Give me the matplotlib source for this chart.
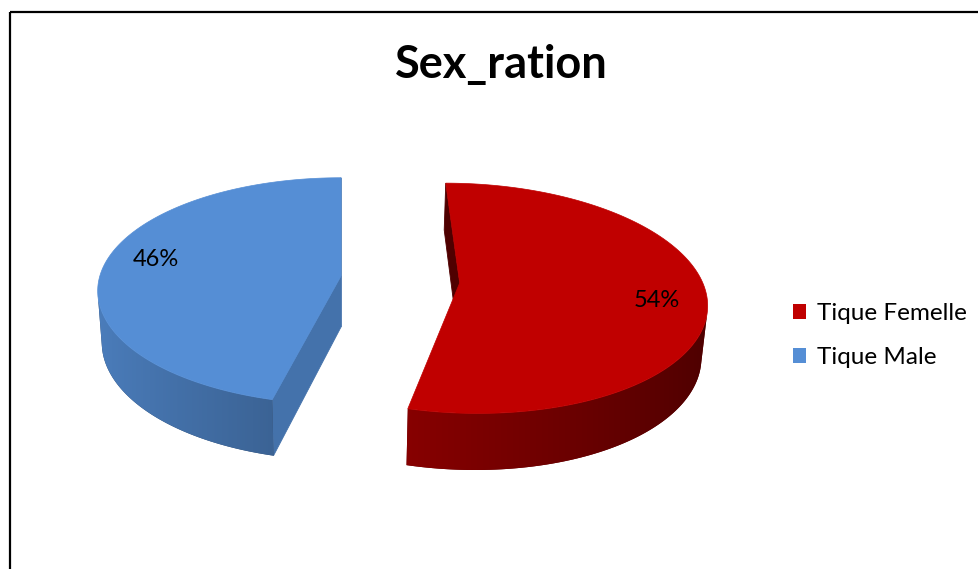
import numpy as np
import matplotlib.pyplot as plt
from matplotlib.patches import Polygon, Patch, Rectangle
from matplotlib.colors import to_rgb

plt.rcParams['font.family'] = ['Lato', 'DejaVu Sans']

title = 'Sex_ration'
labels = ['Tique Femelle', 'Tique Male']
values = [54, 46]
colors = ['#C00000', '#558ED5']

W, H = 979, 569
fig = plt.figure(figsize=(W / 100, H / 100), dpi=100)
ax = fig.add_axes([0, 0, 1, 1])
ax.axis('off')

# camera / 3d settings (pie radius = 1)
elev = np.radians(27.6)
dist = 6.69
focal = 1620.0
cam_x = -0.244
thick = 0.2425
explode = 0.246
x0, y0 = 341, 279.5
cam = np.array([cam_x, -dist * np.cos(elev), dist * np.sin(elev)])


def proj(X, Y, Z):
    depth = dist + Y * np.cos(elev) - Z * np.sin(elev)
    u = x0 + focal * (X - cam_x) / depth
    v = y0 - focal * (Y * np.sin(elev) + Z * np.cos(elev)) / depth
    return u, v


def shade(col, f):
    return np.clip(np.array(to_rgb(col)) * f, 0, 1)


def facing(normal, center):
    return np.dot(normal, cam - np.array(center)) > 0


fracs = np.array(values) / sum(values)
start = 90.0
for i, (frac, col) in enumerate(zip(fracs, colors)):
    t_hi = np.radians(start)
    t_lo = np.radians(start - frac * 360)
    start -= frac * 360
    mid = (t_hi + t_lo) / 2
    cx, cy = explode * np.cos(mid), explode * np.sin(mid)
    zb = 10 * i

    # radial faces
    for t, n in [(t_lo, (np.sin(t_lo), -np.cos(t_lo), 0)),
                 (t_hi, (-np.sin(t_hi), np.cos(t_hi), 0))]:
        rx, ry = cx + np.cos(t), cy + np.sin(t)
        c3 = ((cx + rx) / 2, (cy + ry) / 2, -thick / 2)
        if facing(n, c3):
            f = 0.61 + 0.2 * np.cos(np.arctan2(n[1], n[0]))
            pts = [proj(cx, cy, 0), proj(rx, ry, 0), proj(rx, ry, -thick), proj(cx, cy, -thick)]
            ax.add_patch(Polygon(pts, closed=True, facecolor=shade(col, f),
                                 edgecolor=shade(col, f), lw=0.6, zorder=zb + 1))

    # outer rim, shaded with a horizontal gradient
    ts = np.linspace(t_lo, t_hi, 361)
    vis = np.array([facing((np.cos(t), np.sin(t), 0),
                           (cx + np.cos(t), cy + np.sin(t), -thick / 2)) for t in ts])
    tv = ts[vis]
    if len(tv) > 1:
        top_pts = [proj(cx + np.cos(t), cy + np.sin(t), 0) for t in tv]
        bot_pts = [proj(cx + np.cos(t), cy + np.sin(t), -thick) for t in tv[::-1]]
        rim = Polygon(top_pts + bot_pts, closed=True, facecolor=shade(col, 0.5),
                      edgecolor='none', zorder=zb + 2)
        ax.add_patch(rim)
        px = np.array([p[0] for p in top_pts])
        fac = 0.64 - 0.245 * np.cos(tv)
        order = np.argsort(px)
        xs = np.arange(int(px.min()) - 2, int(px.max()) + 3)
        fx = np.interp(xs, px[order], fac[order])
        grad = np.array([shade(col, f) for f in fx])[None, :, :]
        ys = [p[1] for p in top_pts + bot_pts]
        im = ax.imshow(grad, extent=(xs[0], xs[-1], max(ys) + 2, min(ys) - 2),
                       aspect='auto', interpolation='bilinear', zorder=zb + 2.5)
        im.set_clip_path(rim)

    # top face
    top = [proj(cx, cy, 0)] + [proj(cx + np.cos(t), cy + np.sin(t), 0) for t in ts]
    ax.add_patch(Polygon(top, closed=True, facecolor=col, edgecolor=col,
                         lw=0.5, zorder=zb + 3))

    # data label
    lt = mid - np.radians(4)
    lx, ly = proj(cx + 0.8 * np.cos(lt), cy + 0.8 * np.sin(lt), 0)
    ax.text(lx, ly, f'{round(frac * 100)}%', ha='center', va='center',
            fontsize=17, color='black', zorder=50)

ax.text(501, 65, title, ha='center', va='center', fontsize=32.5,
        fontweight='bold', color='black')

handles = [Patch(facecolor=c, edgecolor='none') for c in colors]
ax.legend(handles, labels, loc='center left', bbox_to_anchor=(793 / W, 1 - 335.5 / H),
          frameon=False, fontsize=17.5, handlelength=0.55, handleheight=0.55,
          handletextpad=0.45, labelspacing=0.95, borderpad=0, borderaxespad=0)

# chart area border
ax.add_patch(Rectangle((10, 12), 2000, 2000, facecolor='none', edgecolor='black',
                       lw=1.6, zorder=100))

ax.set_xlim(0, W)
ax.set_ylim(H, 0)
fig.savefig('out.png', dpi=100)
